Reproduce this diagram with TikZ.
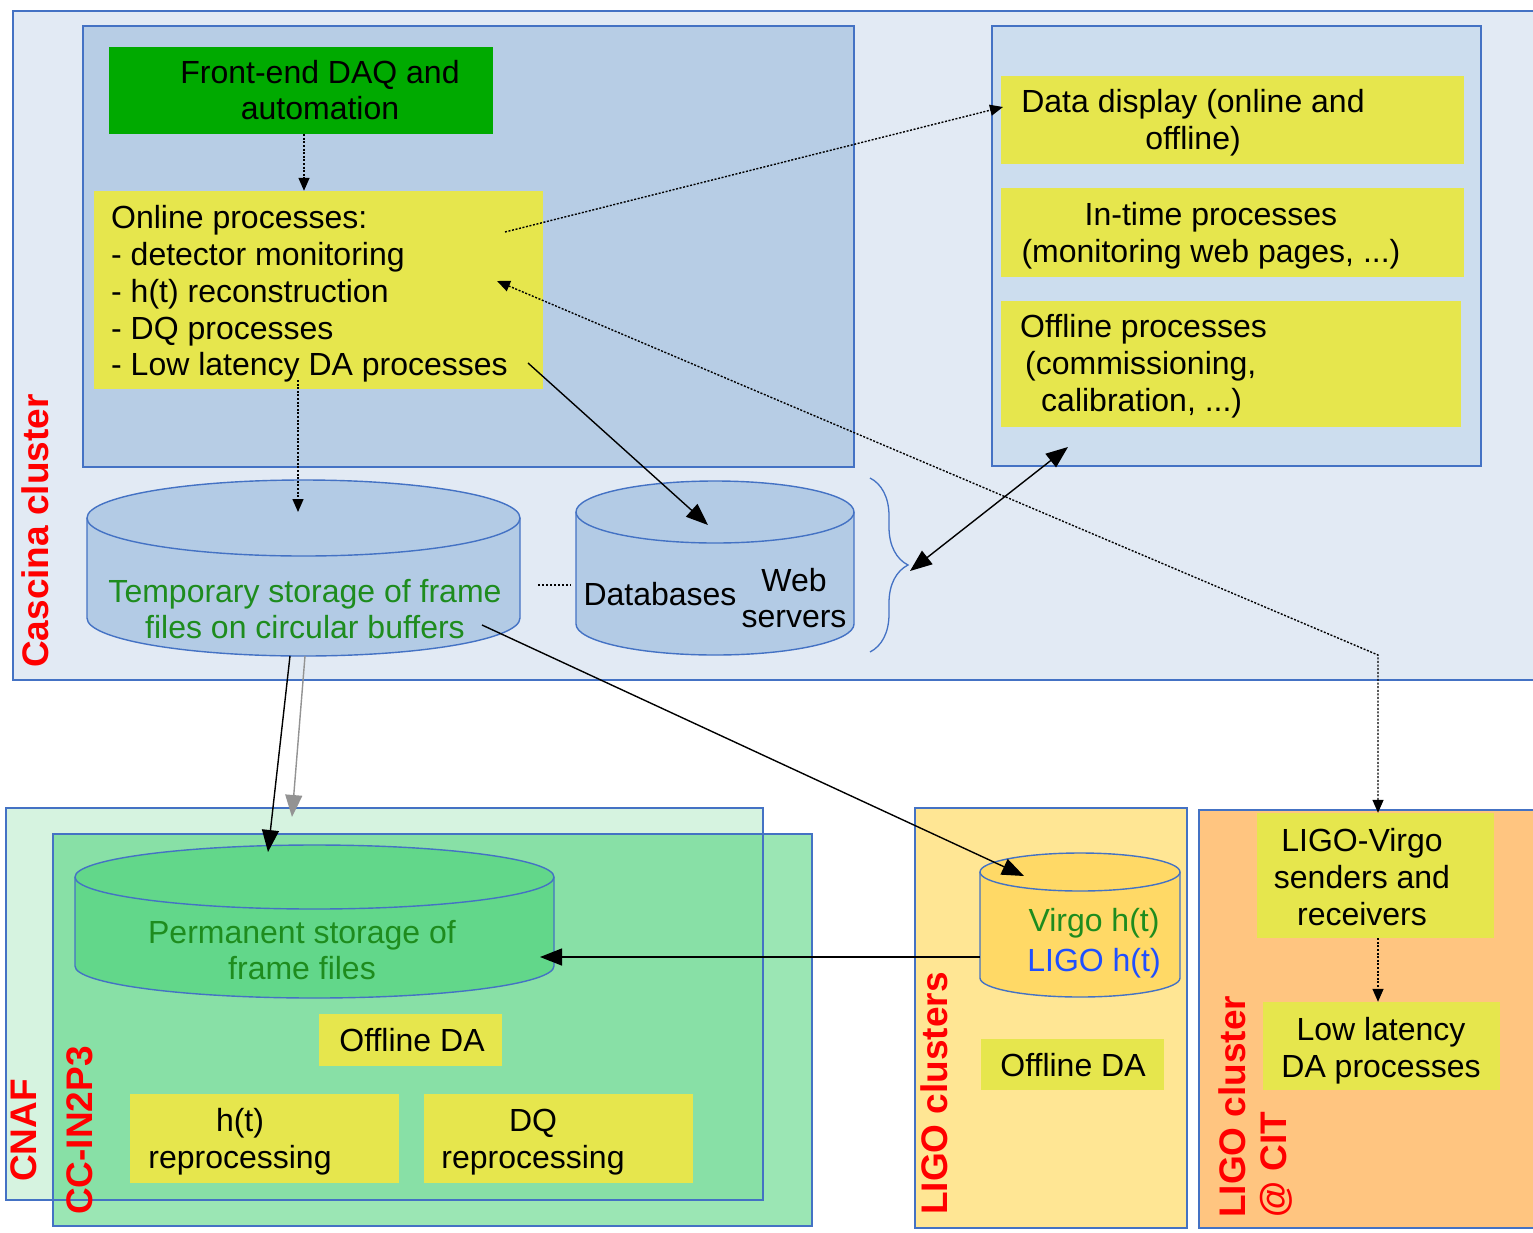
\documentclass[tikz,border=0pt]{standalone}
\usepackage{fontspec}
\setmainfont{Liberation Sans}
\usetikzlibrary{arrows.meta,decorations.pathreplacing,calc}
\definecolor{bcol}{HTML}{4472C4}
\definecolor{cascbg}{HTML}{E2EAF4}
\definecolor{leftpanel}{HTML}{B7CDE5}
\definecolor{rightpanel}{HTML}{CCDDEE}
\definecolor{yel}{HTML}{E6E64D}
\definecolor{daqgreen}{HTML}{00AA00}
\definecolor{cylblue}{HTML}{B3CBE5}
\definecolor{cnafbg}{HTML}{D6F3E0}
\definecolor{ccin}{RGB}{73,210,119}
\definecolor{permfill}{HTML}{62D78A}
\definecolor{ligobg}{HTML}{FFE694}
\definecolor{virgofill}{HTML}{FFD966}
\definecolor{citbg}{HTML}{FFC580}
\definecolor{tgreen}{HTML}{1E8C1E}
\definecolor{tblue}{HTML}{1F4FFF}
\begin{document}
\begin{tikzpicture}[x=1pt,y=1pt,
  area/.style={draw=bcol, line width=1.4pt},
  cyl/.style={draw=bcol, line width=1.4pt},
  bx/.style={rectangle, inner sep=0pt, draw=none, fill=yel},
  tx/.style={font=\fontsize{32}{36.8}\selectfont, align=center, inner sep=0pt},
  redlab/.style={font=\bfseries\fontsize{37}{42}\selectfont, text=red, rotate=90, anchor=base west, inner sep=0pt},
  solidarr/.style={line width=1.4pt, -{Triangle[length=22pt,width=17pt]}},
  dotarr/.style={line width=1.4pt, dash pattern=on 2pt off 1.6pt, -{Triangle[length=13pt,width=11pt]}},
]
\useasboundingbox (0,0) rectangle (1533,-1232);
\clip (0,0) rectangle (1533,-1232);
\fill[white] (0,0) rectangle (1533,-1232);

% ---------- Cascina cluster ----------
\draw[area, fill=cascbg] (13,-11) rectangle (1545,-680);
\node[redlab] (lcas) at (48,-668) {Cascina cluster};
\draw[area, fill=leftpanel] (83,-26) rectangle (854,-467);
\draw[area, fill=rightpanel] (992,-26) rectangle (1481,-466);

\node[bx, fill=daqgreen, minimum width=384pt, minimum height=87pt] (daq) at (301,-90.5) {};
\node[tx] (daq-t) at (320,-90) {Front-end DAQ and\\automation};

\node[bx, minimum width=449pt, minimum height=198pt] (online) at (318.5,-290) {};
\node[tx, align=left, anchor=west] (online-t) at (111,-294) {Online processes:\\- detector monitoring\\- h(t) reconstruction\\- DQ processes\\- Low latency DA processes};

\node[bx, minimum width=463pt, minimum height=88pt] (dd) at (1232.5,-120) {};
\node[tx] (dd-t) at (1193,-123) {Data display (online and\\offline)};
\node[bx, minimum width=463pt, minimum height=89pt] (intime) at (1232.5,-232.5) {};
\node[tx] (intime-t) at (1211,-235.5) {In-time processes\\(monitoring web pages, ...)};
\node[bx, minimum width=460pt, minimum height=126pt] (offp) at (1231,-364) {};
\node[tx, align=left, anchor=west] (offp-t) at (1020,-366) {Offline processes\\\hspace*{5pt}(commissioning,\\\hspace*{21pt}calibration, ...)};

% temporary storage cylinder
\filldraw[cyl, fill=cylblue] (87,-518) -- (87,-618) arc[start angle=180, end angle=360, x radius=216.5, y radius=38] -- (520,-518) arc[start angle=0, end angle=180, x radius=216.5, y radius=38] -- cycle;
\draw[cyl] (87,-518) arc[start angle=180, end angle=360, x radius=216.5, y radius=38];
\node[tx, text=tgreen] (temp) at (305,-609) {Temporary storage of frame\\files on circular buffers};

% databases cylinder
\filldraw[cyl, fill=cylblue] (576,-512) -- (576,-624) arc[start angle=180, end angle=360, x radius=139, y radius=31] -- (854,-512) arc[start angle=0, end angle=180, x radius=139, y radius=31] -- cycle;
\draw[cyl] (576,-512) arc[start angle=180, end angle=360, x radius=139, y radius=31];
\node[tx] (db) at (660,-594) {Databases};
\node[tx] (web) at (794,-598) {Web\\servers};
\coordinate (dotsL) at (538,-585);
\coordinate (dotsR) at (571,-585);
\draw[line width=1.5pt, dash pattern=on 2pt off 2pt] (dotsL) -- (dotsR);

% brace
\coordinate (brT) at (870,-478);
\coordinate (brB) at (870,-652);
\draw[bcol, line width=1.3pt, decorate, decoration={brace, amplitude=38pt, aspect=0.5}] (brT) -- (brB);
\coordinate (brtip) at (910,-571);

% ---------- CNAF / CC-IN2P3 ----------
\fill[cnafbg] (6,-808) rectangle (763,-1200);
\fill[ccin, fill opacity=0.55] (53,-834) rectangle (812,-1226);
\draw[area] (6,-808) rectangle (763,-1200);
\draw[area] (53,-834) rectangle (812,-1226);
\node[redlab] (lcnaf) at (36,-1182) {CNAF};
\node[redlab] (lccin) at (92,-1215) {CC-IN2P3};

\filldraw[cyl, fill=permfill] (75,-877) -- (75,-966) arc[start angle=180, end angle=360, x radius=239.5, y radius=32] -- (554,-877) arc[start angle=0, end angle=180, x radius=239.5, y radius=32] -- cycle;
\draw[cyl] (75,-877) arc[start angle=180, end angle=360, x radius=239.5, y radius=32];
\node[tx, text=tgreen] (perm) at (302,-950) {Permanent storage of\\frame files};

\node[bx, minimum width=183pt, minimum height=52pt] (offda1) at (410.5,-1040) {};
\node[tx] (offda1-t) at (412,-1040) {Offline DA};
\node[bx, minimum width=269pt, minimum height=89pt] (htre) at (264.5,-1138.5) {};
\node[tx] (htre-t) at (240,-1142) {h(t)\\reprocessing};
\node[bx, minimum width=269pt, minimum height=89pt] (dqre) at (558.5,-1138.5) {};
\node[tx] (dqre-t) at (533,-1142) {DQ\\reprocessing};

% ---------- LIGO clusters ----------
\draw[area, fill=ligobg] (915,-808) rectangle (1187,-1228);
\node[redlab] (lligo) at (947,-1215) {LIGO clusters};
\filldraw[cyl, fill=virgofill] (980,-872) -- (980,-978) arc[start angle=180, end angle=360, x radius=100, y radius=19] -- (1180,-872) arc[start angle=0, end angle=180, x radius=100, y radius=19] -- cycle;
\draw[cyl] (980,-872) arc[start angle=180, end angle=360, x radius=100, y radius=19];
\node[tx] (virgo) at (1094,-943) {{\color{tgreen}Virgo h(t)}\\[3pt]{\color{tblue}LIGO h(t)}};
\node[bx, minimum width=183pt, minimum height=51pt] (offda2) at (1072.5,-1064.5) {};
\node[tx] (offda2-t) at (1073,-1065) {Offline DA};

% ---------- LIGO cluster @ CIT ----------
\draw[area, fill=citbg] (1199,-810) rectangle (1545,-1228);
\node[redlab] (lcit1) at (1245,-1218) {LIGO cluster};
\node[redlab] (lcit2) at (1286,-1218) {@ CIT};
\node[bx, minimum width=237pt, minimum height=125pt] (lvsr) at (1375.5,-875.5) {};
\node[tx] (lvsr-t) at (1362,-877) {LIGO-Virgo\\senders and\\receivers};
\node[bx, minimum width=237pt, minimum height=88pt] (lowlat) at (1381.5,-1046) {};
\node[tx] (lowlat-t) at (1381,-1050.5) {Low latency\\DA processes};

% ---------- connectors ----------
\coordinate (onA) at (505,-232);
\coordinate (onB) at (497,-281);
\coordinate (onC) at (528,-363);
\coordinate (onD) at (298,-380);
\coordinate (ddin) at (1003,-107);
\coordinate (bend) at (1378,-655);
\coordinate (dbtop) at (708,-525);
\coordinate (temptop) at (298,-512);
\coordinate (offpin) at (1068,-447);
\coordinate (tempA) at (290,-656);
\coordinate (tempB) at (305,-656);
\coordinate (tempC) at (482,-625);
\coordinate (permtop) at (268,-852);
\coordinate (permtopG) at (292,-817);
\coordinate (permright) at (540,-957);
\coordinate (virgotop) at (1024,-876);
\coordinate (virgoleft) at (980,-957);

\draw[dotarr] (daq.south -| 304,0) -- (online.north -| 304,0);
\draw[dotarr] (onA) -- (ddin);
\draw[dotarr, {Triangle[length=13pt,width=11pt]}-{Triangle[length=13pt,width=11pt]}] (onB) -- (bend) -- (lvsr.north -| bend);
\draw[solidarr] (onC) -- (dbtop);
\draw[dotarr] (onD) -- (temptop);
\draw[line width=1.4pt, {Triangle[length=22pt,width=17pt]}-{Triangle[length=22pt,width=17pt]}] (brtip) -- (offpin);
\draw[solidarr] (tempA) -- (permtop);
\draw[solidarr, draw=gray!85, -{Triangle[length=22pt,width=17pt, color=gray!85]}] (tempB) -- (permtopG);
\draw[solidarr] (tempC) -- (virgotop);
\draw[solidarr] (virgoleft) -- (permright);
\draw[dotarr] (lvsr.south -| 1378,0) -- (lowlat.north -| 1378,0);
\end{tikzpicture}
\end{document}
